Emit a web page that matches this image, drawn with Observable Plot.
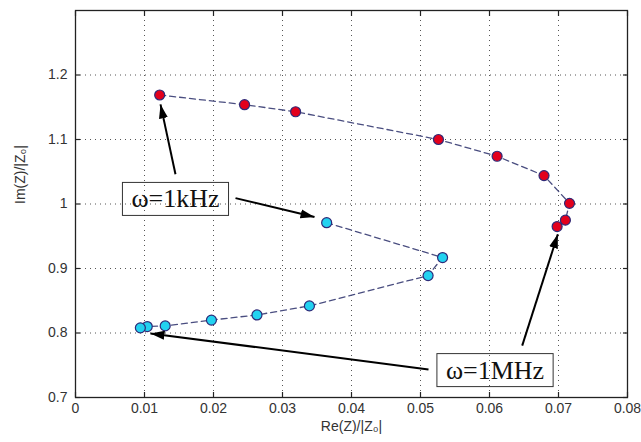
<!DOCTYPE html>
<html><head><meta charset="utf-8">
<script src="https://cdn.jsdelivr.net/npm/d3@7"></script>
<script src="https://cdn.jsdelivr.net/npm/@observablehq/plot@0.6"></script>
<style>body{margin:0;background:#fff} svg{display:block}</style>
</head><body><div id="chart"></div>
<script>
// ---- data ----
const xTicks = [0, 0.01, 0.02, 0.03, 0.04, 0.05, 0.06, 0.07, 0.08];
const xTickLabels = ["0", "0.01", "0.02", "0.03", "0.04", "0.05", "0.06", "0.07", "0.08"];
const yTicks = [0.7, 0.8, 0.9, 1.0, 1.1, 1.2];
const yTickLabels = ["0.7", "0.8", "0.9", "1", "1.1", "1.2"];
const xLabel = "Re(Z)/|Z\u2080|";
const yLabel = "Im(Z)/|Z\u2080|";

const redRe = [0.0122, 0.0245, 0.0319, 0.0526, 0.0611, 0.0679, 0.0716, 0.0710, 0.0698];
const redIm = [1.169, 1.154, 1.143, 1.100, 1.074, 1.044, 1.001, 0.975, 0.965];
const cyanRe = [0.0364, 0.0532, 0.0511, 0.0339, 0.0263, 0.0197, 0.0130, 0.0104, 0.0094];
const cyanIm = [0.971, 0.917, 0.889, 0.842, 0.828, 0.820, 0.811, 0.810, 0.808];

const noteTexts = ["\u03C9=1kHz", "\u03C9=1MHz"];
const noteRe = [0.01449, 0.0608];
const noteIm = [1.0076, 0.7422];
// arrows: from (re1, im1) to (re2, im2)
const arrowRe1 = [0.01449, 0.02319, 0.06474, 0.05116];
const arrowIm1 = [1.0462, 1.0091, 0.7804, 0.7433];
const arrowRe2 = [0.01232, 0.03464, 0.0699, 0.01087];
const arrowIm2 = [1.1544, 0.9798, 0.953, 0.7994];

// ---- tables ----
const red = redRe.map((x, i) => ({x, y: redIm[i]}));
const cyan = cyanRe.map((x, i) => ({x, y: cyanIm[i]}));
const notes = noteTexts.map((t, i) => ({t, x: noteRe[i], y: noteIm[i]}));
const arrows = arrowRe1.map((x1, i) => ({x1, y1: arrowIm1[i], x2: arrowRe2[i], y2: arrowIm2[i]}));

const lineColor = "#4a4e80";
const edge = "#2e2a78";
const gridStyle = {stroke: "#555", strokeOpacity: 1, strokeDasharray: "1,4", strokeWidth: 1};
const tickFont = {fontSize: 14, fill: "#333"};
const tickStyle = {stroke: "#222", strokeWidth: 1.2};
const blank = () => "";

const chart = Plot.plot({
  width: 641, height: 442,
  marginLeft: 75, marginRight: 14, marginTop: 10, marginBottom: 45,
  style: {fontFamily: "'Liberation Sans', Arial, sans-serif", fontSize: "14px", background: "white"},
  x: {domain: [0, 0.08]},
  y: {domain: [0.7, 1.3]},
  marks: [
    Plot.gridX(xTicks, gridStyle),
    Plot.gridY(yTicks, gridStyle),
    Plot.line(red, {x: "x", y: "y", stroke: lineColor, strokeWidth: 1.3, strokeDasharray: "6,4"}),
    Plot.line(cyan, {x: "x", y: "y", stroke: lineColor, strokeWidth: 1.3, strokeDasharray: "6,4"}),
    Plot.dot(red, {x: "x", y: "y", r: 5, fill: "#e3001c", stroke: edge, strokeWidth: 1.2}),
    Plot.dot(cyan, {x: "x", y: "y", r: 5, fill: "#22d2f0", stroke: edge, strokeWidth: 1.2}),
    Plot.frame({stroke: "#222", strokeWidth: 1.3}),
    // inward tick marks on all four sides
    Plot.axisX(xTicks, {anchor: "bottom", tickSize: 5, dy: -5, tickFormat: blank, label: null, ...tickStyle}),
    Plot.axisX(xTicks, {anchor: "top", tickSize: 5, dy: 5, tickFormat: blank, label: null, ...tickStyle}),
    Plot.axisY(yTicks, {anchor: "left", tickSize: 5, dx: 5, tickFormat: blank, label: null, ...tickStyle}),
    Plot.axisY(yTicks, {anchor: "right", tickSize: 5, dx: -5, tickFormat: blank, label: null, ...tickStyle}),
    // tick labels
    Plot.axisX(xTicks, {anchor: "bottom", tickSize: 0, tickPadding: 6, label: null,
      tickFormat: d => xTickLabels[xTicks.indexOf(d)], ...tickFont}),
    Plot.axisY(yTicks, {anchor: "left", tickSize: 0, tickPadding: 8, label: null,
      tickFormat: d => yTickLabels[yTicks.indexOf(d)], ...tickFont}),
    Plot.text([xLabel], {text: d => d, frameAnchor: "bottom", dy: 33, fontSize: 14, fill: "#333"}),
    Plot.text([yLabel], {text: d => d, frameAnchor: "left", rotate: -90, dx: -55, fontSize: 14, fill: "#333"}),
    Plot.link(arrows, {x1: "x1", y1: "y1", x2: "x2", y2: "y2", stroke: "black", strokeWidth: 2}),
    Plot.text(notes, {x: "x", y: "y", text: "t", fontFamily: "'Liberation Serif', 'Times New Roman', serif",
      fontSize: 26, fill: "#111"})
  ]
});
document.getElementById("chart").appendChild(chart);

// boxes around annotation texts, and filled arrowheads
const svg = d3.select(chart);
svg.selectAll("text").filter(function() { return noteTexts.includes(this.textContent); }).each(function() {
  const b = this.getBBox();
  const padX = 9, padY = 3;
  this.parentNode.insertBefore(document.createElementNS("http://www.w3.org/2000/svg", "rect"), this);
  d3.select(this.previousSibling)
    .attr("x", b.x - padX).attr("y", b.y - padY + 1)
    .attr("width", b.width + 2 * padX).attr("height", b.height + 2 * padY - 2)
    .attr("fill", "none").attr("stroke", "#333").attr("stroke-width", 1)
    .attr("transform", this.getAttribute("transform"));
});
const defs = svg.insert("defs", ":first-child");
defs.append("marker").attr("id", "ahead").attr("markerUnits", "userSpaceOnUse")
  .attr("viewBox", "-14 -5 14 10").attr("refX", 0).attr("refY", 0)
  .attr("markerWidth", 14).attr("markerHeight", 10).attr("orient", "auto")
  .append("path").attr("d", "M-14,-4.5L0,0L-14,4.5Z").attr("fill", "black");
svg.selectAll('g[aria-label="link"] path, g[aria-label="link"] line')
  .attr("marker-end", "url(#ahead)");
</script></body></html>
